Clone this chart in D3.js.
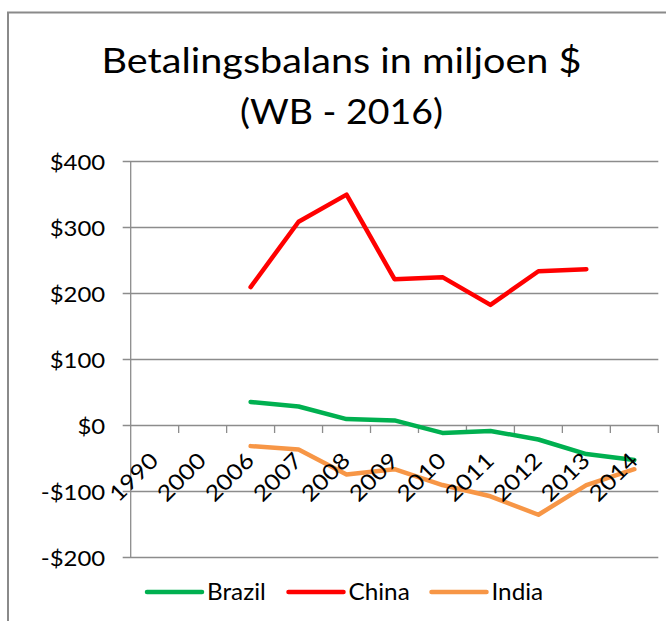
<!DOCTYPE html>
<html lang="nl">
<head>
    <meta charset="UTF-8">
    <script src="https://d3js.org/d3.v7.min.js"></script>
    <style>
        body { margin: 0; background: #fff; }
        text { font-family: Lato, "Open Sans", sans-serif; fill: #000; }
    </style>
</head>
<body>
<div id="chart"></div>
<script>
    // data (balance of payments, million $)
    var years = ["1990", "2000", "2006", "2007", "2008", "2009", "2010", "2011", "2012", "2013", "2014"];
    var brazil = [null, null, 35, 28, 9, 7, -12, -9, -22, -44, -53];
    var china = [null, null, 209, 308, 349, 221, 224, 182, 233, 236, null];
    var india = [null, null, -32, -37, -75, -67, -91, -108, -136, -91, -67];
    var yTicks = [-200, -100, 0, 100, 200, 300, 400];

    var series = [
        {name: "Brazil", values: brazil, color: "#00b050"},
        {name: "China", values: china, color: "#ff0000"},
        {name: "India", values: india, color: "#f79646"}
    ];

    var W = 666, H = 621;
    var plot = {left: 130.7, right: 658.3, top: 161, bottom: 557};
    var stretch = 1.14; // the source image is a bit wider than tall

    var svg = d3.select("#chart").append("svg")
        .attr("width", W)
        .attr("height", H);

    // chart frame (only left and top edges are visible in the crop)
    svg.append("path")
        .attr("d", "M8,640 L8,12.5 L680,12.5")
        .attr("fill", "none")
        .attr("stroke", "#8a8a8a")
        .attr("stroke-width", 2);

    // title
    var title = svg.append("text")
        .attr("text-anchor", "middle")
        .attr("font-size", 35);
    title.append("tspan").attr("x", 341.5).attr("y", 73)
        .attr("textLength", 480).attr("lengthAdjust", "spacingAndGlyphs")
        .text("Betalingsbalans in miljoen $");
    title.append("tspan").attr("x", 341.5).attr("y", 124)
        .attr("textLength", 203).attr("lengthAdjust", "spacingAndGlyphs")
        .text("(WB - 2016)");

    var x = d3.scaleBand().domain(years).range([plot.left, plot.right]);
    var y = d3.scaleLinear().domain([-200, 400]).range([plot.bottom, plot.top]);

    // gridlines + y axis
    var yAxis = d3.axisLeft(y)
        .tickValues(yTicks)
        .tickSize(-(plot.right - plot.left))
        .tickFormat(function(d) { return (d < 0 ? "-$" : "$") + Math.abs(d); });

    var gy = svg.append("g")
        .attr("transform", "translate(" + plot.left + ",0)")
        .call(yAxis);
    gy.select(".domain").remove();
    gy.selectAll(".tick line")
        .attr("x1", -8)
        .attr("stroke", "#8c8c8c")
        .attr("stroke-width", 1.3);
    gy.selectAll(".tick text")
        .attr("x", 0)
        .attr("dy", "0.4em")
        .attr("transform", "translate(-25.5,0) scale(" + stretch + ",1)")
        .attr("font-size", 21)
        .attr("fill", "#000");

    // vertical axis line
    svg.append("line")
        .attr("x1", plot.left).attr("x2", plot.left)
        .attr("y1", plot.top).attr("y2", plot.bottom)
        .attr("stroke", "#8c8c8c")
        .attr("stroke-width", 1.3);

    // category ticks on the zero line
    var bounds = years.map(function(d) { return x(d); }).concat([plot.right]);
    svg.append("g").selectAll("line")
        .data(bounds.slice(1))
        .join("line")
        .attr("x1", function(d) { return d; })
        .attr("x2", function(d) { return d; })
        .attr("y1", y(0))
        .attr("y2", y(0) + 8)
        .attr("stroke", "#8c8c8c")
        .attr("stroke-width", 1.3);

    // lines
    var line = d3.line()
        .defined(function(d) { return d != null; })
        .x(function(d, i) { return x(years[i]) + x.bandwidth() / 2; })
        .y(function(d) { return y(d); });

    svg.append("g").selectAll("path")
        .data(series)
        .join("path")
        .attr("d", function(s) { return line(s.values); })
        .attr("fill", "none")
        .attr("stroke", function(s) { return s.color; })
        .attr("stroke-width", 4.5)
        .attr("stroke-linejoin", "round")
        .attr("stroke-linecap", "round");

    // category labels sit on top of the lines
    svg.append("g").selectAll("text")
        .data(years)
        .join("text")
        .attr("text-anchor", "end")
        .attr("font-size", 22)
        .attr("transform", function(d) {
            return "translate(" + (x(d) + x.bandwidth() / 2 + 5) + "," + (y(0) + 37) + ") rotate(-45) scale(" + stretch + ",1)";
        })
        .text(function(d) { return d; });

    // legend
    var legendX = [147, 288.5, 431.5];
    var leg = svg.append("g").selectAll("g")
        .data(series)
        .join("g")
        .attr("transform", function(s, i) { return "translate(" + legendX[i] + ",592)"; });
    leg.append("line")
        .attr("x1", 0).attr("x2", 55)
        .attr("stroke", function(s) { return s.color; })
        .attr("stroke-width", 4.5)
        .attr("stroke-linecap", "round");
    leg.append("text")
        .attr("transform", "translate(60,8) scale(1.08,1)")
        .attr("font-size", 22.5)
        .text(function(s) { return s.name; });
</script>
</body>
</html>
